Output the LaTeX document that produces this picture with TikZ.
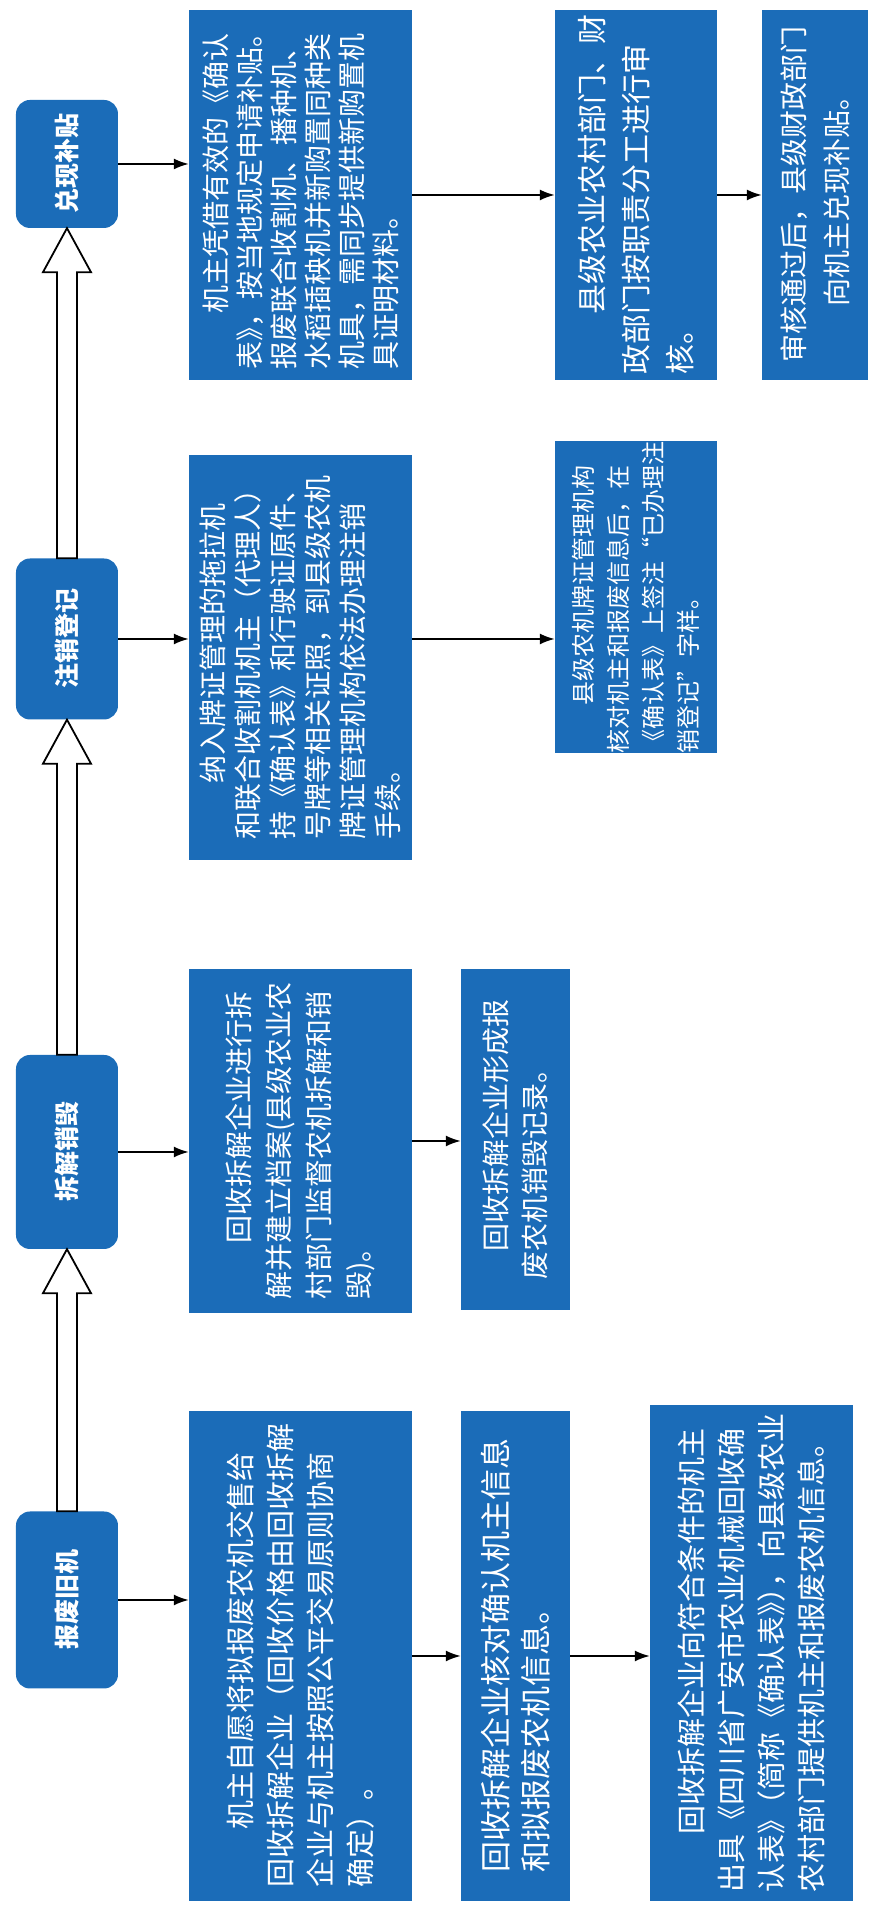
\documentclass[tikz,border=0pt]{standalone}
\usepackage{fontspec}
\newfontfamily\cjk{Noto Sans CJK SC}
\usetikzlibrary{calc, arrows.meta}

\definecolor{boxblue}{RGB}{27,108,184}

\tikzset{
  stage/.style={fill=boxblue, rounded corners=14pt, text=white, minimum height=102pt,
    font=\cjk\fontsize{25}{29}\selectfont\bfseries},
  txt/.style={fill=boxblue, text=white, inner sep=0pt, align=left,
    font=\cjk\fontsize{28}{40}\selectfont},
  hollow/.style={draw=black, fill=white, line width=1.8pt},
  link/.style={-{Latex[length=15pt, width=11pt]}, line width=1.8pt},
}

\begin{document}
\begin{tikzpicture}[x=1pt, y=1pt, rotate=90, transform shape]
  \useasboundingbox (0,0) rectangle (1910,886);

  % the four stages
  \node[stage, minimum width=177pt] (bf) at (310,819) {报废旧机};
  \node[stage, minimum width=194pt] (cj) at (758,819) {拆解销毁};
  \node[stage, minimum width=161pt] (zx) at (1271,819) {注销登记};
  \node[stage, minimum width=128pt] (dx) at (1746,819) {兑现补贴};

  % 报废旧机
  \node[txt, minimum width=490pt, minimum height=223pt, font=\cjk\fontsize{29}{40}\selectfont] (bf1) at (254,585.5)
    {\hspace*{2em}机主自愿将拟报废农机交售给\\回收拆解企业（回收价格由回收拆解\\企业与机主按照公平交易原则协商\\确定）。};
  \node[txt, minimum width=490pt, minimum height=109pt, font=\cjk\fontsize{31}{40}\selectfont] (bf2) at (254,370.5)
    {回收拆解企业核对确认机主信息\\和拟报废农机信息。};
  \node[txt, minimum width=496pt, minimum height=203pt, font=\cjk\fontsize{29}{40}\selectfont] (bf3) at (257,134.5)
    {\hspace*{2em}回收拆解企业向符合条件的机主\\出具《四川省广安市农业机械回收确\\认表》\kern-.5em（简称《确认表》\kern-.5em）\kern-.5em，向县级农业\\农村部门提供机主和报废农机信息。};

  % 拆解销毁
  \node[txt, minimum width=344pt, minimum height=223pt] (cj1) at (769,585.5)
    {\hspace*{2em}回收拆解企业进行拆\\解并建立档案(县级农业农\\村部门监督农机拆解和销\\毁)。};
  \node[txt, minimum width=341pt, minimum height=109pt, font=\cjk\fontsize{28}{39}\selectfont] (cj2) at (770.5,370.5)
    {\hspace*{1em}回收拆解企业形成报\\废农机销毁记录。};

  % 注销登记
  \node[txt, minimum width=405pt, minimum height=223pt, font=\cjk\fontsize{28}{35}\selectfont] (zx1) at (1252.5,585.5)
    {\hspace*{2em}纳入牌证管理的拖拉机\\和联合收割机机主（代理人）\\持《确认表》和行驶证原件、\\号牌等相关证照，到县级农机\\牌证管理机构依法办理注销\\手续。};
  \node[txt, minimum width=285pt, minimum height=162pt, font=\cjk\fontsize{24}{35}\selectfont] (zx2) at (1312.5,250)
    {\hspace*{2em}县级农机牌证管理机构\\核对机主和报废信息后，在\\《确认表》上签注“已办理注\\销登记”字样。};

  % 兑现补贴
  \node[txt, minimum width=370pt, minimum height=223pt, font=\cjk\fontsize{28}{34}\selectfont] (dx1) at (1715,585.5)
    {\hspace*{2em}机主凭借有效的《确认\\表》\kern-.5em，按当地规定申请补贴。\\报废联合收割机、播种机、\\水稻插秧机并新购置同种类\\机具，需同步提供新购置机\\具证明材料。};
  \node[txt, minimum width=370pt, minimum height=162pt, font=\cjk\fontsize{30}{44}\selectfont] (dx2) at (1715,250)
    {\hspace*{2em}县级农业农村部门、财\\政部门按职责分工进行审\\核。};
  \node[txt, minimum width=370pt, minimum height=106pt, align=center, font=\cjk\fontsize{28}{43}\selectfont] (dx3) at (1715,71)
    {审核通过后，县级财政部门\\向机主兑现补贴。};

  % hollow arrows between stages
  \foreach \a/\b in {bf/cj, cj/zx, zx/dx}
    \draw[hollow] let \p1=(\a.east), \p2=(\b.west) in
      (\x1,\y1+10pt) -- (\x2-44pt,\y1+10pt) -- (\x2-44pt,\y1+24pt) -- (\x2,\y1)
      -- (\x2-44pt,\y1-24pt) -- (\x2-44pt,\y1-10pt) -- (\x1,\y1-10pt) -- cycle;

  % thin arrows
  \draw[link] (bf.south) -- (bf1.north -| bf.south);
  \draw[link] (bf1.south) -- (bf2.north -| bf1.south);
  \draw[link] (bf2.south) -- (bf3.north -| bf2.south);
  \draw[link] (cj.south) -- (cj1.north -| cj.south);
  \draw[link] (cj1.south) -- (cj2.north -| cj1.south);
  \draw[link] (zx.south) -- (zx1.north -| zx.south);
  \draw[link] (zx1.south -| zx.south) -- (zx2.north -| zx.south);
  \draw[link] (dx.south) -- (dx1.north -| dx.south);
  \draw[link] (dx1.south) -- (dx2.north -| dx1.south);
  \draw[link] (dx2.south) -- (dx3.north -| dx2.south);
\end{tikzpicture}
\end{document}
